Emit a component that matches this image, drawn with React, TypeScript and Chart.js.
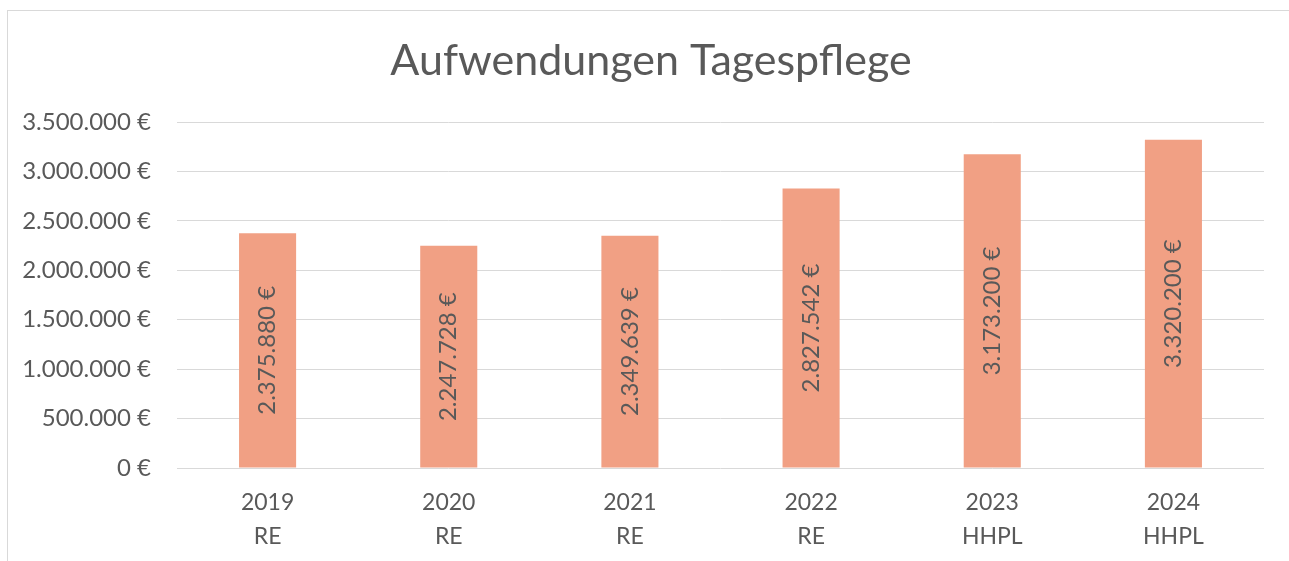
import React, { useEffect, useRef } from "react";
import { Chart, registerables } from "chart.js";

Chart.register(...registerables);

const years = ["2019", "2020", "2021", "2022", "2023", "2024"];
const kinds = ["RE", "RE", "RE", "RE", "HHPL", "HHPL"];
const values = [2375880, 2247728, 2349639, 2827542, 3173200, 3320200];
const yMax = 3500000;
const yStep = 500000;
const titleText = "Aufwendungen Tagespflege";

const FONT = "Lato, 'Open Sans', sans-serif";
const TEXT = "#595959";

function fmtEuro(v: number): string {
  const s = Math.round(v).toString();
  const parts: string[] = [];
  for (let i = s.length; i > 0; i -= 3) {
    parts.unshift(s.substring(Math.max(0, i - 3), i));
  }
  return parts.join(".") + " €";
}

const valueLabels = {
  id: "valueLabels",
  afterDatasetsDraw(chart: any) {
    const ctx = chart.ctx;
    const meta = chart.getDatasetMeta(0);
    ctx.save();
    ctx.fillStyle = TEXT;
    ctx.font = `24px ${FONT}`;
    ctx.textAlign = "center";
    ctx.textBaseline = "middle";
    meta.data.forEach((el: any, i: number) => {
      const cy = (el.y + el.base) / 2;
      ctx.save();
      ctx.translate(el.x, cy);
      ctx.rotate(-Math.PI / 2);
      ctx.fillText(fmtEuro(values[i]), 0, 0);
      ctx.restore();
    });
    ctx.restore();
  },
};

const titlePlugin = {
  id: "customTitle",
  afterDraw(chart: any) {
    const ctx = chart.ctx;
    ctx.save();
    ctx.fillStyle = TEXT;
    ctx.font = `43px ${FONT}`;
    ctx.textAlign = "center";
    ctx.textBaseline = "alphabetic";
    ctx.fillText(titleText, 643, 64);
    ctx.restore();
  },
};

export default function App() {
  const ref = useRef<HTMLCanvasElement>(null);
  useEffect(() => {
    if (!ref.current) return;
    const chart = new Chart(ref.current, {
      type: "bar",
      data: {
        labels: years.map((y, i) => [y, kinds[i]]),
        datasets: [
          {
            data: values,
            backgroundColor: "#F1A084",
            categoryPercentage: 1,
            barPercentage: 0.315,
          },
        ],
      },
      options: {
        responsive: false,
        animation: false,
        layout: { padding: { top: 111, right: 26, bottom: 0, left: 0 } },
        plugins: {
          legend: { display: false },
          tooltip: { enabled: false },
          title: { display: false },
        },
        scales: {
          x: {
            grid: { display: false, drawTicks: false },
            border: { display: false },
            ticks: {
              color: TEXT,
              font: { family: FONT, size: 23, lineHeight: 1.48 },
              padding: 18,
              maxRotation: 0,
            },
            afterFit(scale: any) {
              scale.height = 93;
            },
          },
          y: {
            min: 0,
            max: yMax,
            grid: { color: "#d9d9d9", lineWidth: 1, drawTicks: false },
            border: { display: false },
            ticks: {
              stepSize: yStep,
              color: TEXT,
              font: { family: FONT, size: 24 },
              padding: 26,
              callback: (v: any) => fmtEuro(Number(v)),
            },
            afterFit(scale: any) {
              scale.width = 169;
            },
          },
        },
      },
      plugins: [valueLabels, titlePlugin],
    });
    return () => chart.destroy();
  }, []);

  return (
    <div
      style={{
        position: "fixed",
        left: 0,
        top: 0,
        width: 1289,
        height: 561,
        overflow: "hidden",
        background: "#fff",
      }}
    >
      <div
        style={{
          position: "absolute",
          left: 7,
          top: 10,
          width: 1300,
          height: 600,
          border: "1px solid #d9d9d9",
          boxSizing: "border-box",
        }}
      >
        <canvas ref={ref} width={1282} height={550} style={{ display: "block" }} />
      </div>
    </div>
  );
}
